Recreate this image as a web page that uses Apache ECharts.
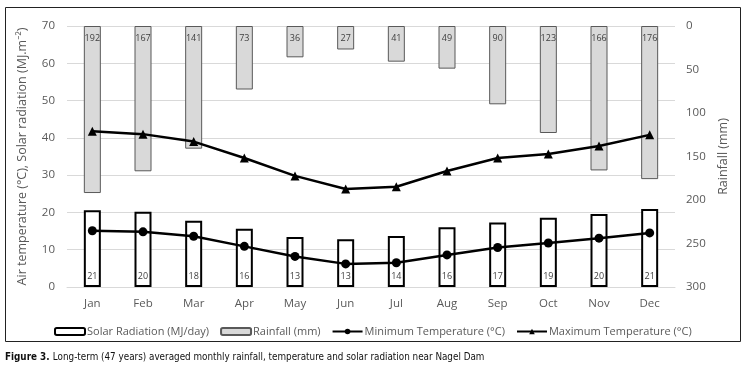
<!DOCTYPE html>
<html><head><meta charset="utf-8">
<script src="https://cdn.jsdelivr.net/npm/echarts@6/dist/echarts.min.js"></script>
<style>html,body{margin:0;padding:0;background:#fff}#c{width:749px;height:376px}</style>
</head><body><div id="c"></div>
<script>
const months = ['Jan','Feb','Mar','Apr','May','Jun','Jul','Aug','Sep','Oct','Nov','Dec'];
const solarRadiation = [20.6,20.2,17.8,15.6,13.4,12.8,13.7,16.0,17.3,18.6,19.6,20.9];
const rainfall = [192,167,141,73,36,27,41,49,90,123,166,176];
const minTemp = [15.1,14.8,13.6,10.9,8.2,6.2,6.5,8.6,10.6,11.8,13.1,14.5];
const maxTemp = [41.8,41.0,39.0,34.6,29.8,26.3,26.9,31.1,34.6,35.7,37.8,40.8];
const leftTicks = [0,70,10];
const rightTicks = [0,300,50];

const F = "'Open Sans', 'Noto Sans', sans-serif";
const NF = "'Liberation Sans Narrow','DejaVu Sans Condensed',sans-serif";
const chart = echarts.init(document.getElementById('c'));
chart.setOption({
  animation:false,
  textStyle:{fontFamily:F},
  grid:{left:67,right:74,top:26,bottom:89},
  graphic:[
    {type:'rect',shape:{x:5.5,y:7.5,width:735,height:334},style:{fill:'none',stroke:'#222',lineWidth:1},silent:true},
    {type:'text',left:5,top:351,style:{rich:{b:{fontWeight:'bold',fontSize:9.8,fontFamily:NF,fill:'#111'},n:{fontSize:9.8,fontFamily:NF,fill:'#111'}},text:'{b|Figure 3.} {n|Long-term (47 years) averaged monthly rainfall, temperature and solar radiation near Nagel Dam}'}}
  ],
  legend:{
    left:49,top:321,itemGap:11,itemWidth:30,itemHeight:7,
    textStyle:{color:'#595959',fontSize:11,fontFamily:F,padding:[0,0,0,-3]},
    data:['Solar Radiation (MJ/day)','Rainfall (mm)','Minimum Temperature (°C)','Maximum Temperature (°C)']
  },
  xAxis:{type:'category',data:months,
    axisLine:{lineStyle:{color:'#d9d9d9'}},axisTick:{show:false},
    axisLabel:{color:'#595959',fontSize:11.5,margin:11}},
  yAxis:[
    {type:'value',min:leftTicks[0],max:leftTicks[1],interval:leftTicks[2],
     name:'Air temperature (°C), Solar radiation (MJ.m⁻²)',nameLocation:'middle',nameGap:38,
     nameTextStyle:{color:'#595959',fontSize:12.5},
     axisLabel:{color:'#595959',fontSize:11.5,margin:12},
     splitLine:{lineStyle:{color:'#d9d9d9'}},axisLine:{show:false},axisTick:{show:false}},
    {type:'value',min:rightTicks[0],max:rightTicks[1],interval:rightTicks[2],inverse:true,
     name:'Rainfall (mm)',nameLocation:'middle',nameGap:42,nameRotate:90,
     nameTextStyle:{color:'#595959',fontSize:12.5},
     axisLabel:{color:'#595959',fontSize:11.5,margin:11},
     splitLine:{show:false},axisLine:{show:false},axisTick:{show:false}}
  ],
  series:[
    {name:'Solar Radiation (MJ/day)',type:'bar',data:solarRadiation,barWidth:17,
     itemStyle:{color:'#fff',borderColor:'#000',borderWidth:2},
     label:{show:true,position:'insideBottom',distance:6,color:'#404040',fontSize:9,formatter:p=>Math.round(p.value)},z:3},
    {name:'Rainfall (mm)',type:'bar',yAxisIndex:1,data:rainfall,barWidth:17,barGap:'-100%',
     itemStyle:{color:'#d9d9d9',borderColor:'#595959',borderWidth:1},
     label:{show:true,position:'insideTop',distance:8,color:'#404040',fontSize:9},z:2},
    {name:'Minimum Temperature (°C)',type:'line',data:minTemp,symbol:'circle',symbolSize:9,
     lineStyle:{color:'#000',width:2.5},itemStyle:{color:'#000'},z:5},
    {name:'Maximum Temperature (°C)',type:'line',data:maxTemp,symbol:'triangle',symbolSize:9,
     lineStyle:{color:'#000',width:2.5},itemStyle:{color:'#000'},z:5}
  ]
});
</script></body></html>
